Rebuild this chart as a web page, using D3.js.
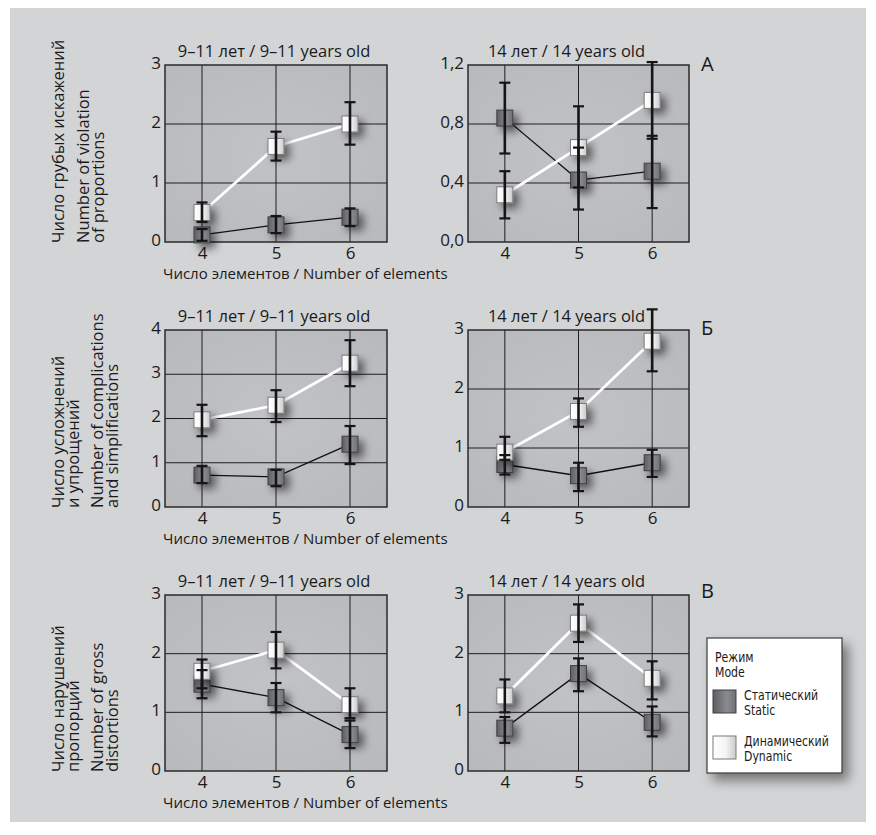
<!DOCTYPE html>
<html><head><meta charset="utf-8">
<script src="https://cdn.jsdelivr.net/npm/d3@7"></script>
<style>
html,body{margin:0;padding:0;background:#fff;}
svg{display:block;}
</style>
</head><body>
<svg id="chart" width="876" height="835"></svg>
<script>
// ---------- DATA ----------
const elements = [4, 5, 6];
const modes = ["static", "dynamic"];
const legendTitle = ["Режим", "Mode"];
const legendStatic = ["Статический", "Static"];
const legendDynamic = ["Динамический", "Dynamic"];
const titleYoung = "9–11 лет / 9–11 years old";
const titleOld = "14 лет / 14 years old";
const xAxisLabel = "Число элементов / Number of elements";
const rowLetters = ["А", "Б", "В"];
const rowLabelA = ["Число грубых искажений", "Number of violation", "of proportions"];
const rowLabelB = ["Число усложнений", "и упрощений", "Number of complications", "and simplifications"];
const rowLabelC = ["Число нарушений", "пропорций", "Number of gross", "distortions"];

const ticksInt3 = [0, 1, 2, 3];
const ticksInt4 = [0, 1, 2, 3, 4];
const ticksDec = [0, 0.4, 0.8, 1.2];
const ticksDecLabels = ["0,0", "0,4", "0,8", "1,2"];

// Row A — young
const aYoungStatic = [0.12, 0.29, 0.42];
const aYoungStaticLo = [0.02, 0.15, 0.27];
const aYoungStaticHi = [0.22, 0.44, 0.57];
const aYoungDynamic = [0.50, 1.62, 2.00];
const aYoungDynamicLo = [0.34, 1.38, 1.65];
const aYoungDynamicHi = [0.67, 1.87, 2.37];
// Row A — 14
const aOldStatic = [0.84, 0.42, 0.48];
const aOldStaticLo = [0.60, 0.22, 0.23];
const aOldStaticHi = [1.08, 0.64, 0.72];
const aOldDynamic = [0.32, 0.64, 0.96];
const aOldDynamicLo = [0.16, 0.37, 0.70];
const aOldDynamicHi = [0.48, 0.92, 1.22];
// Row Б — young
const bYoungStatic = [0.72, 0.68, 1.42];
const bYoungStaticLo = [0.54, 0.47, 0.97];
const bYoungStaticHi = [0.93, 0.84, 1.83];
const bYoungDynamic = [1.97, 2.30, 3.25];
const bYoungDynamicLo = [1.60, 1.92, 2.73];
const bYoungDynamicHi = [2.31, 2.64, 3.77];
// Row Б — 14
const bOldStatic = [0.72, 0.53, 0.75];
const bOldStaticLo = [0.55, 0.27, 0.51];
const bOldStaticHi = [0.88, 0.75, 0.97];
const bOldDynamic = [0.93, 1.62, 2.81];
const bOldDynamicLo = [0.80, 1.36, 2.30];
const bOldDynamicHi = [1.19, 1.84, 3.35];
// Row В — young
const cYoungStatic = [1.48, 1.25, 0.62];
const cYoungStaticLo = [1.24, 1.00, 0.39];
const cYoungStaticHi = [1.72, 1.50, 0.86];
const cYoungDynamic = [1.70, 2.06, 1.13];
const cYoungDynamicLo = [1.41, 1.75, 0.90];
const cYoungDynamicHi = [1.90, 2.37, 1.41];
// Row В — 14
const cOldStatic = [0.73, 1.66, 0.83];
const cOldStaticLo = [0.48, 1.36, 0.59];
const cOldStaticHi = [0.92, 1.92, 1.10];
const cOldDynamic = [1.28, 2.52, 1.58];
const cOldDynamicLo = [1.00, 2.20, 1.22];
const cOldDynamicHi = [1.56, 2.84, 1.87];

// ---------- LAYOUT ----------
const rowTop = [65, 330, 595];
const rowBottom = [242, 507, 771];
const colLeft = [165, 468];
const colRight = [387, 689];
const letterBaseline = [71, 335, 598];
const FONT = "'Open Sans', 'Noto Sans', sans-serif";
const NARROW = "'Liberation Sans Narrow', 'DejaVu Sans Condensed', 'Roboto', sans-serif";

const rows = [
  { label: rowLabelA, letter: rowLetters[0], panels: [
    { title: titleYoung, ymax: 3, ticks: ticksInt3, tickLabels: ticksInt3.map(String),
      s: [aYoungStatic, aYoungStaticLo, aYoungStaticHi], d: [aYoungDynamic, aYoungDynamicLo, aYoungDynamicHi] },
    { title: titleOld, ymax: 1.2, ticks: ticksDec, tickLabels: ticksDecLabels,
      s: [aOldStatic, aOldStaticLo, aOldStaticHi], d: [aOldDynamic, aOldDynamicLo, aOldDynamicHi] }]},
  { label: rowLabelB, letter: rowLetters[1], panels: [
    { title: titleYoung, ymax: 4, ticks: ticksInt4, tickLabels: ticksInt4.map(String),
      s: [bYoungStatic, bYoungStaticLo, bYoungStaticHi], d: [bYoungDynamic, bYoungDynamicLo, bYoungDynamicHi] },
    { title: titleOld, ymax: 3, ticks: ticksInt3, tickLabels: ticksInt3.map(String),
      s: [bOldStatic, bOldStaticLo, bOldStaticHi], d: [bOldDynamic, bOldDynamicLo, bOldDynamicHi] }]},
  { label: rowLabelC, letter: rowLetters[2], panels: [
    { title: titleYoung, ymax: 3, ticks: ticksInt3, tickLabels: ticksInt3.map(String),
      s: [cYoungStatic, cYoungStaticLo, cYoungStaticHi], d: [cYoungDynamic, cYoungDynamicLo, cYoungDynamicHi] },
    { title: titleOld, ymax: 3, ticks: ticksInt3, tickLabels: ticksInt3.map(String),
      s: [cOldStatic, cOldStaticLo, cOldStaticHi], d: [cOldDynamic, cOldDynamicLo, cOldDynamicHi] }]}
];

const svg = d3.select("#chart");
const defs = svg.append("defs");

// gradients & filters
const gS = defs.append("linearGradient").attr("id", "gStatic");
gS.append("stop").attr("offset", "0%").attr("stop-color", "#5e5f62");
gS.append("stop").attr("offset", "60%").attr("stop-color", "#8a8b8e");
gS.append("stop").attr("offset", "100%").attr("stop-color", "#6f7073");
const gD = defs.append("linearGradient").attr("id", "gDynamic");
gD.append("stop").attr("offset", "0%").attr("stop-color", "#ffffff");
gD.append("stop").attr("offset", "55%").attr("stop-color", "#f4f4f4");
gD.append("stop").attr("offset", "100%").attr("stop-color", "#c9cacc");
const gB = defs.append("radialGradient").attr("id", "gPlot").attr("cx", "50%").attr("cy", "50%").attr("r", "70%");
gB.append("stop").attr("offset", "0%").attr("stop-color", "#c2c3c6");
gB.append("stop").attr("offset", "100%").attr("stop-color", "#b8b9bc");

const f = defs.append("filter").attr("id", "shadow").attr("x", "-100%").attr("y", "-100%").attr("width", "300%").attr("height", "300%");
f.append("feDropShadow").attr("dx", 5).attr("dy", 5).attr("stdDeviation", 4.5)
  .attr("flood-color", "#000").attr("flood-opacity", 0.55);
const f2 = defs.append("filter").attr("id", "shadowBox").attr("x", "-30%").attr("y", "-30%").attr("width", "160%").attr("height", "160%");
f2.append("feDropShadow").attr("dx", 6).attr("dy", 7).attr("stdDeviation", 6)
  .attr("flood-color", "#000").attr("flood-opacity", 0.45);

// page background
svg.append("rect").attr("x", 10).attr("y", 8).attr("width", 856).attr("height", 814).attr("fill", "#d3d4d6");

rows.forEach((row, ri) => {
  const top = rowTop[ri], bottom = rowBottom[ri];

  // row label (rotated)
  const lx = ri === 0 ? [58, 83, 98] : [58, 73, 97, 112];
  row.label.forEach((t, i) => {
    svg.append("text")
      .attr("transform", `translate(${lx[i] + 5.5},${bottom + 1}) rotate(-90)`)
      .attr("font-family", FONT).attr("font-size", 16.5).attr("fill", "#1a1a1a")
      .text(t);
  });

  row.panels.forEach((p, ci) => {
    const x = d3.scaleLinear().domain([3.5, 6.5]).range([colLeft[ci], colRight[ci]]);
    const y = d3.scaleLinear().domain([0, p.ymax]).range([bottom, top]);
    const g = svg.append("g");

    g.append("rect").attr("x", colLeft[ci]).attr("y", top)
      .attr("width", colRight[ci] - colLeft[ci]).attr("height", bottom - top)
      .attr("fill", "url(#gPlot)");

    // grid
    g.selectAll(".gy").data(p.ticks.slice(1, -1)).join("line")
      .attr("x1", colLeft[ci]).attr("x2", colRight[ci])
      .attr("y1", d => y(d)).attr("y2", d => y(d))
      .attr("stroke", "#1e1e1e").attr("stroke-width", 1);
    g.selectAll(".gx").data(elements).join("line")
      .attr("x1", d => x(d)).attr("x2", d => x(d))
      .attr("y1", top).attr("y2", bottom)
      .attr("stroke", "#1e1e1e").attr("stroke-width", 1);

    g.append("rect").attr("x", colLeft[ci]).attr("y", top)
      .attr("width", colRight[ci] - colLeft[ci]).attr("height", bottom - top)
      .attr("fill", "none").attr("stroke", "#2a2a2a").attr("stroke-width", 1.5);

    // y axis
    const yAxis = d3.axisLeft(y).tickValues(p.ticks).tickSize(0).tickPadding(4)
      .tickFormat((d, i) => p.tickLabels[i]);
    const ya = g.append("g").attr("transform", `translate(${colLeft[ci]},-2)`).call(yAxis);
    ya.select(".domain").remove();
    ya.selectAll("text").attr("font-family", FONT).attr("font-size", 17).attr("fill", "#1a1a1a");

    // x axis
    const xAxis = d3.axisBottom(x).tickValues(elements).tickSize(0).tickPadding(5).tickFormat(d3.format("d"));
    const xa = g.append("g").attr("transform", `translate(0,${bottom})`).call(xAxis);
    xa.select(".domain").remove();
    xa.selectAll("text").attr("font-family", FONT).attr("font-size", 17).attr("fill", "#1a1a1a");

    // title
    g.append("text")
      .attr("x", (colLeft[ci] + colRight[ci]) / 2 + (ci === 0 ? -2 : -12))
      .attr("y", top - 8)
      .attr("text-anchor", "middle")
      .attr("font-family", FONT).attr("font-size", 16.5).attr("fill", "#1a1a1a")
      .text(p.title);

    const line = d3.line().x((d, i) => x(elements[i])).y(d => y(d));
    g.append("path").datum(p.s[0]).attr("d", line)
      .attr("fill", "none").attr("stroke", "#111").attr("stroke-width", 1.3);
    g.append("path").datum(p.d[0]).attr("d", line)
      .attr("fill", "none").attr("stroke", "#ffffff").attr("stroke-width", 2.8);

    // squares
    const sq = 16;
    [[p.s, "url(#gStatic)", "#3f4042"], [p.d, "url(#gDynamic)", "#7a7b7d"]].forEach(([ser, fill, stroke]) => {
      g.selectAll(null).data(ser[0]).join("rect")
        .attr("x", (d, i) => x(elements[i]) - sq / 2)
        .attr("y", d => y(d) - sq / 2)
        .attr("width", sq).attr("height", sq)
        .attr("fill", fill).attr("stroke", stroke).attr("stroke-width", 1)
        .attr("filter", "url(#shadow)");
    });

    // error bars
    [p.s, p.d].forEach(ser => {
      const eb = g.selectAll(null).data(elements).join("g");
      eb.append("line")
        .attr("x1", d => x(d)).attr("x2", d => x(d))
        .attr("y1", (d, i) => y(ser[1][i])).attr("y2", (d, i) => y(ser[2][i]))
        .attr("stroke", "#151515").attr("stroke-width", 2.6);
      [1, 2].forEach(k => {
        eb.append("line")
          .attr("x1", d => x(d) - 5.5).attr("x2", d => x(d) + 5.5)
          .attr("y1", (d, i) => y(ser[k][i])).attr("y2", (d, i) => y(ser[k][i]))
          .attr("stroke", "#151515").attr("stroke-width", 2.2);
      });
    });

    // x axis label (left panel only)
    if (ci === 0) {
      g.append("text").attr("x", 163).attr("y", bottom + 37)
        .attr("font-family", FONT).attr("font-size", 15).attr("fill", "#1a1a1a")
        .text(xAxisLabel);
    }
  });

  svg.append("text").attr("x", 701).attr("y", letterBaseline[ri])
    .attr("font-family", FONT).attr("font-size", 20).attr("fill", "#1a1a1a")
    .text(row.letter);
});

// legend
const lg = svg.append("g");
lg.append("rect").attr("x", 707).attr("y", 638).attr("width", 135).attr("height", 135)
  .attr("fill", "#fff").attr("stroke", "#3a3a3a").attr("stroke-width", 1.2).attr("filter", "url(#shadowBox)");
function narrowText(x0, y0, lines) {
  lg.append("text").attr("transform", `translate(${x0},${y0}) scale(0.9,1)`)
    .attr("font-family", NARROW).attr("font-size", 13.5).attr("fill", "#1a1a1a")
    .selectAll("tspan").data(lines).join("tspan").attr("x", 0).attr("dy", (d, i) => i ? 15.5 : 0).text(d => d);
}
narrowText(715, 662, legendTitle);
const legendItems = [[legendStatic, "url(#gStatic)", "#3f4042", 690], [legendDynamic, "url(#gDynamic)", "#7a7b7d", 736]];
legendItems.forEach(([txt, fill, stroke, yy]) => {
  lg.append("rect").attr("x", 713).attr("y", yy).attr("width", 23).attr("height", 23)
    .attr("fill", fill).attr("stroke", stroke).attr("stroke-width", 1);
  narrowText(744, yy + 10, txt);
});
</script>
</body></html>
